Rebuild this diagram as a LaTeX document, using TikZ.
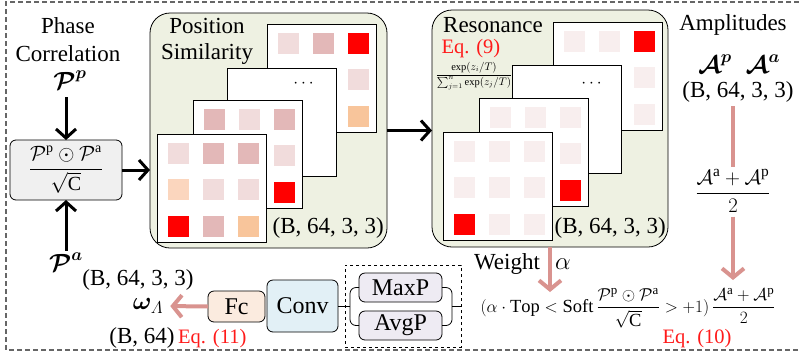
\documentclass[tikz,border=0pt]{standalone}
\usepackage{amsmath}
\usepackage{bm}
\usepackage{fontspec}
\setmainfont{Liberation Serif}
\usetikzlibrary{arrows.meta}
\definecolor{panelfill}{HTML}{EEF1E2}
\definecolor{boxgray}{HTML}{F0F0F0}
\definecolor{lp}{HTML}{F1DCDC}
\definecolor{dp}{HTML}{E3B8B8}
\definecolor{rd}{HTML}{FF0000}
\definecolor{og}{HTML}{F8C59B}
\definecolor{lo}{HTML}{FBD6BE}
\definecolor{vl}{HTML}{F8EEEE}
\definecolor{wt}{HTML}{FFFFFF}
\definecolor{pinkc}{HTML}{D9938F}
\definecolor{fcfill}{HTML}{FBEBDF}
\definecolor{convfill}{HTML}{E2F0F6}
\definecolor{poolfill}{HTML}{EEEBF3}
\definecolor{eqred}{HTML}{FF1A1A}
\definecolor{framegray}{HTML}{666666}

\newcommand\drawsheet[3]{%
  \filldraw[fill=white,draw=black,line width=0.8pt] (#1,#2) rectangle ++(109,108);
  \foreach \sqc [count=\i from 0] in {#3}{%
    \pgfmathsetmacro\cx{#1+10.5+35.25*mod(\i,3)}%
    \pgfmathsetmacro\cy{#2+8.5+36.5*floor(\i/3)}%
    \fill[\sqc] (\cx,\cy) rectangle ++(21,21);}%
}

\begin{document}
\begin{tikzpicture}[x=1pt,y=-1pt,
  txt/.style={inner sep=0pt,font=\fontsize{23}{26}\selectfont,anchor=base},
  eqlbl/.style={inner sep=0pt,font=\fontsize{20.5}{24}\selectfont,text=eqred,anchor=base},
  blk/.style={draw=black,line width=3pt,-{Straight Barb[length=9pt,width=20pt]}},
  pinkarr/.style={draw=pinkc,line width=4pt,-{Straight Barb[length=9pt,width=22pt]}},
  pinkline/.style={draw=pinkc,line width=4pt},
  panel/.style={draw=black,line width=0.8pt,fill=panelfill,rounded corners=20pt,inner sep=0pt,outer sep=0pt,anchor=north west},
  rbox/.style={draw=black,line width=0.8pt,rounded corners=6pt,inner sep=0pt,outer sep=0pt,font=\fontsize{24}{26}\selectfont},
  outerframe/.style={draw=framegray,line width=1.2pt,dash pattern=on 5pt off 3pt}
]
\useasboundingbox (0,0) rectangle (799,354);
\draw[outerframe] (799,2) -- (6,2) -- (6,350) -- (799,350);

% ---- Phase correlation
\node[txt] (phase) at (68,33) {Phase};
\node[txt] (corr) at (68,61) {Correlation};
\node[inner sep=2pt,font=\fontsize{27}{29}\selectfont] (Pp) at (70,80) {$\bm{\mathcal{P}}^{\bm{p}}$};
\node[rbox,fill=boxgray,minimum width=112pt,minimum height=60pt,font=\fontsize{20}{22}\selectfont] (pc) at (66,170)
  {$\dfrac{\mathcal{P}^{\mathrm{p}}\odot\mathcal{P}^{\mathrm{a}}}{\sqrt{\mathrm{C}}}$};
\node[inner sep=2pt,font=\fontsize{27}{29}\selectfont] (Pa) at (66,262) {$\bm{\mathcal{P}}^{\bm{a}}$};
\node[txt] (pashape) at (138,285) {(B, 64, 3, 3)};
\draw[blk,shorten <=6pt] (Pp.south -| pc.north) -- (pc.north);
\draw[blk] (Pa.north -| pc.south) -- (pc.south);

% ---- Position similarity
\node[panel,minimum width=237pt,minimum height=235pt] (ps) at (150,13) {};
\node[txt] (pos1) at (207,33) {Position};
\node[txt] (pos2) at (207,59) {Similarity};
\drawsheet{267}{24}{lp,dp,rd,wt,wt,lp,wt,wt,og}
\drawsheet{227}{68}{wt,wt,wt,wt,wt,wt,wt,wt,wt}
\node[inner sep=0pt,font=\fontsize{16}{18}\selectfont] (psdots) at (305,84) {$\cdots$};
\drawsheet{193}{100}{dp,lp,dp,wt,wt,lp,wt,wt,rd}
\drawsheet{157}{134}{lp,dp,dp,lo,lp,lp,rd,dp,og}
\node[txt,anchor=base east] (psshape) at (384,233) {(B, 64, 3, 3)};
\draw[blk] (pc.east) -- (pc.east -| ps.west);

% ---- Resonance
\node[panel,minimum width=236pt,minimum height=237pt] (res) at (432,10) {};
\node[txt] (reso) at (493,32) {Resonance};
\node[eqlbl] (eq9) at (471,53) {Eq. (9)};
\node[font=\fontsize{10.5}{12}\selectfont,inner sep=0pt] (softm) at (474,76)
  {$\dfrac{\exp(z_i/T)}{\sum_{j=1}^{n}\exp(z_j/T)}$};
\drawsheet{553}{22}{vl,vl,rd,wt,wt,vl,wt,wt,vl}
\drawsheet{512}{65}{wt,wt,wt,wt,wt,wt,wt,wt,wt}
\node[inner sep=0pt,font=\fontsize{16}{18}\selectfont] (resdots) at (593,84) {$\cdots$};
\drawsheet{479}{98}{vl,vl,vl,wt,wt,vl,wt,wt,rd}
\drawsheet{443}{132}{vl,vl,vl,vl,vl,vl,rd,vl,vl}
\node[txt,anchor=base east] (resshape) at (666,233) {(B, 64, 3, 3)};
\draw[blk] (ps.east) -- (ps.east -| res.west);

% ---- Amplitudes
\node[txt] (ampl) at (733,30) {Amplitudes};
\node[font=\fontsize{27}{29}\selectfont,inner sep=0pt,anchor=base] (Aamp) at (739,73)
  {$\bm{\mathcal{A}}^{\bm{p}}\;\;\bm{\mathcal{A}}^{\bm{a}}$};
\node[txt] (ashape) at (738,97) {(B, 64, 3, 3)};
\node[font=\fontsize{22}{24}\selectfont,inner sep=0pt] (afrac) at (733,191)
  {$\dfrac{\mathcal{A}^{\mathrm{a}}+\mathcal{A}^{\mathrm{p}}}{2}$};
\draw[pinkline,shorten <=4pt,shorten >=2pt] (ashape.south -| afrac.north) -- (afrac.north);
\coordinate (atip) at (733,280);
\draw[pinkarr,shorten <=4pt] (afrac.south) -- (atip);

% ---- bottom formula
\node[font=\fontsize{18.5}{21}\selectfont,inner sep=0pt] (formula) at (628,308)
  {$\displaystyle(\alpha\cdot\mathrm{Top}<\mathrm{Soft}\,\frac{\mathcal{P}^{\mathrm{p}}\odot\mathcal{P}^{\mathrm{a}}}{\sqrt{\mathrm{C}}}>+1)\,\frac{\mathcal{A}^{\mathrm{a}}+\mathcal{A}^{\mathrm{p}}}{2}$};
\node[eqlbl] (eq10) at (697,343) {Eq. (10)};
\node[txt] (wt) at (507,269) {Weight};
\node[font=\fontsize{24}{26}\selectfont,inner sep=0pt,anchor=base] (alph) at (563,269) {$\alpha$};
\coordinate (wtip) at (550,292);
\draw[pinkarr] (wtip |- res.south) -- (wtip);

% ---- pooling chain
\node[rbox,fill=poolfill,minimum width=83pt,minimum height=29pt] (maxp) at (400.5,287.5) {MaxP};
\node[rbox,fill=poolfill,minimum width=83pt,minimum height=29pt] (avgp) at (400.5,325.5) {AvgP};
\node[draw=black,dashed,line width=0.8pt,minimum width=116pt,minimum height=82pt,inner sep=0pt,outer sep=0pt] (poolgrp) at (403,306) {};
\node[rbox,fill=convfill,minimum width=71pt,minimum height=52pt] (conv) at (302.5,306) {Conv};
\node[rbox,fill=fcfill,minimum width=57pt,minimum height=31pt] (fc) at (236.5,306.5) {Fc};
\coordinate (bl) at (350,306);
\coordinate (br) at (452,306);
\draw[line width=0.8pt] (conv.east) -- (bl);
\draw[line width=0.8pt,rounded corners=6pt] (maxp.west) -| (bl) |- (avgp.west);
\draw[line width=0.8pt,rounded corners=6pt] (maxp.east) -| (br) |- (avgp.east);
\draw[line width=0.8pt] (br) -- (br -| poolgrp.east);
\node[font=\fontsize{25}{27}\selectfont,inner sep=2pt] (omega) at (148,306) {$\bm{\omega}_{\varLambda}$};
\draw[pinkarr,shorten >=5pt] (fc.west) -- (omega.east);
\node[txt] (bshape) at (142,343) {(B, 64)};
\node[eqlbl,anchor=base west] (eq11) at (178,343) {Eq. (11)};
\end{tikzpicture}
\end{document}
